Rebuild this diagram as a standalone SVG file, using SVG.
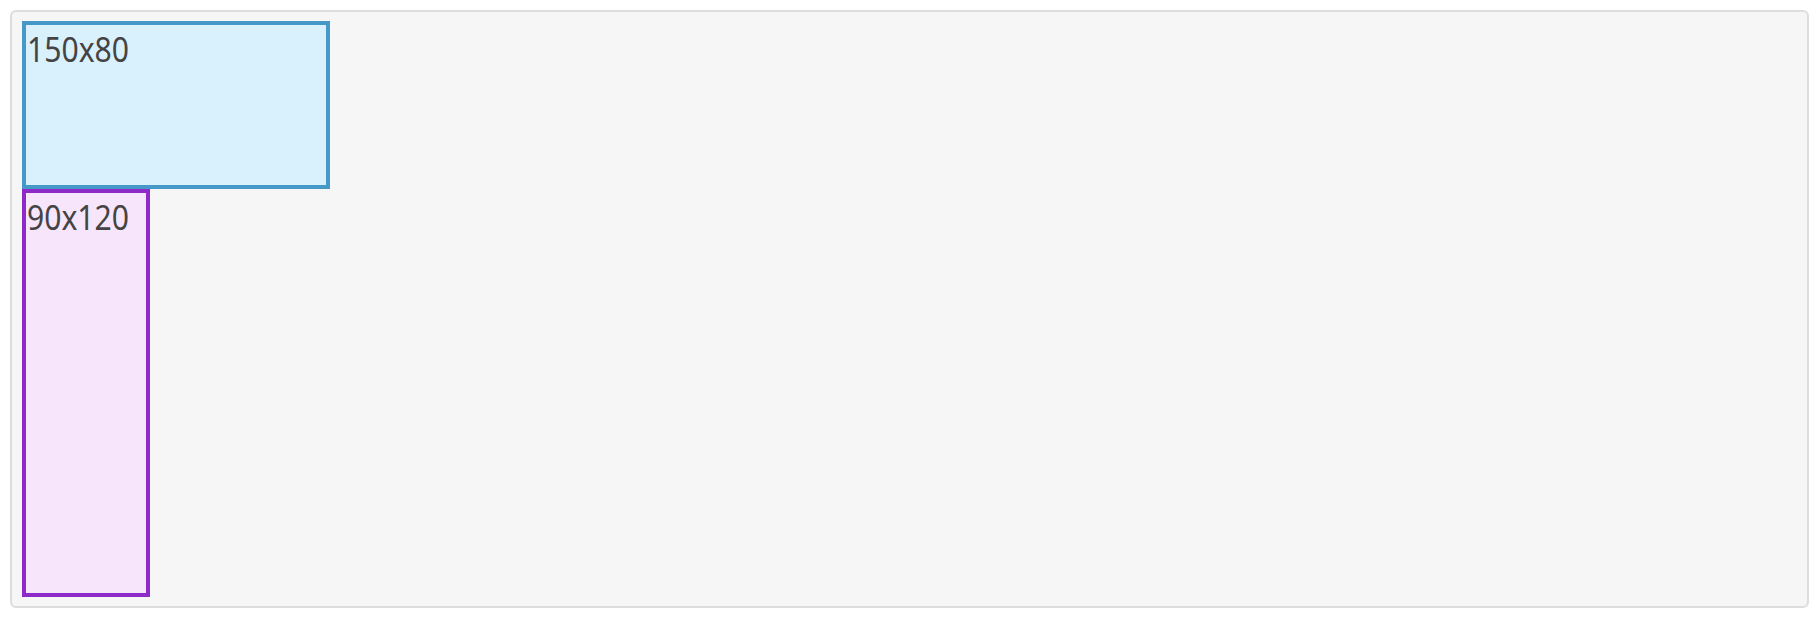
<svg xmlns="http://www.w3.org/2000/svg" width="1818" height="622" viewBox="0 0 1818 622">
<style>
.lbl{font-family:"Noto Sans","Open Sans",sans-serif;font-size:35px;fill:#444444}
</style>
<rect x="0" y="0" width="1818" height="622" fill="#ffffff"/>
<rect x="11" y="11" width="1797" height="596" rx="5" fill="#f6f6f6" stroke="#dddddd" stroke-width="2"/>
<g id="node-150x80">
<rect x="24" y="23" width="304" height="164" fill="#d9f1fc" stroke="#4499c8" stroke-width="4"/>
<text class="lbl" x="27" y="62" textLength="102" lengthAdjust="spacingAndGlyphs">150x80</text>
</g>
<g id="node-90x120">
<rect x="24" y="191" width="124" height="404" fill="#f7e6fb" stroke="#8e2ac7" stroke-width="4"/>
<text class="lbl" x="27" y="230" textLength="102" lengthAdjust="spacingAndGlyphs">90x120</text>
</g>
<g id="connectors"/>
</svg>
